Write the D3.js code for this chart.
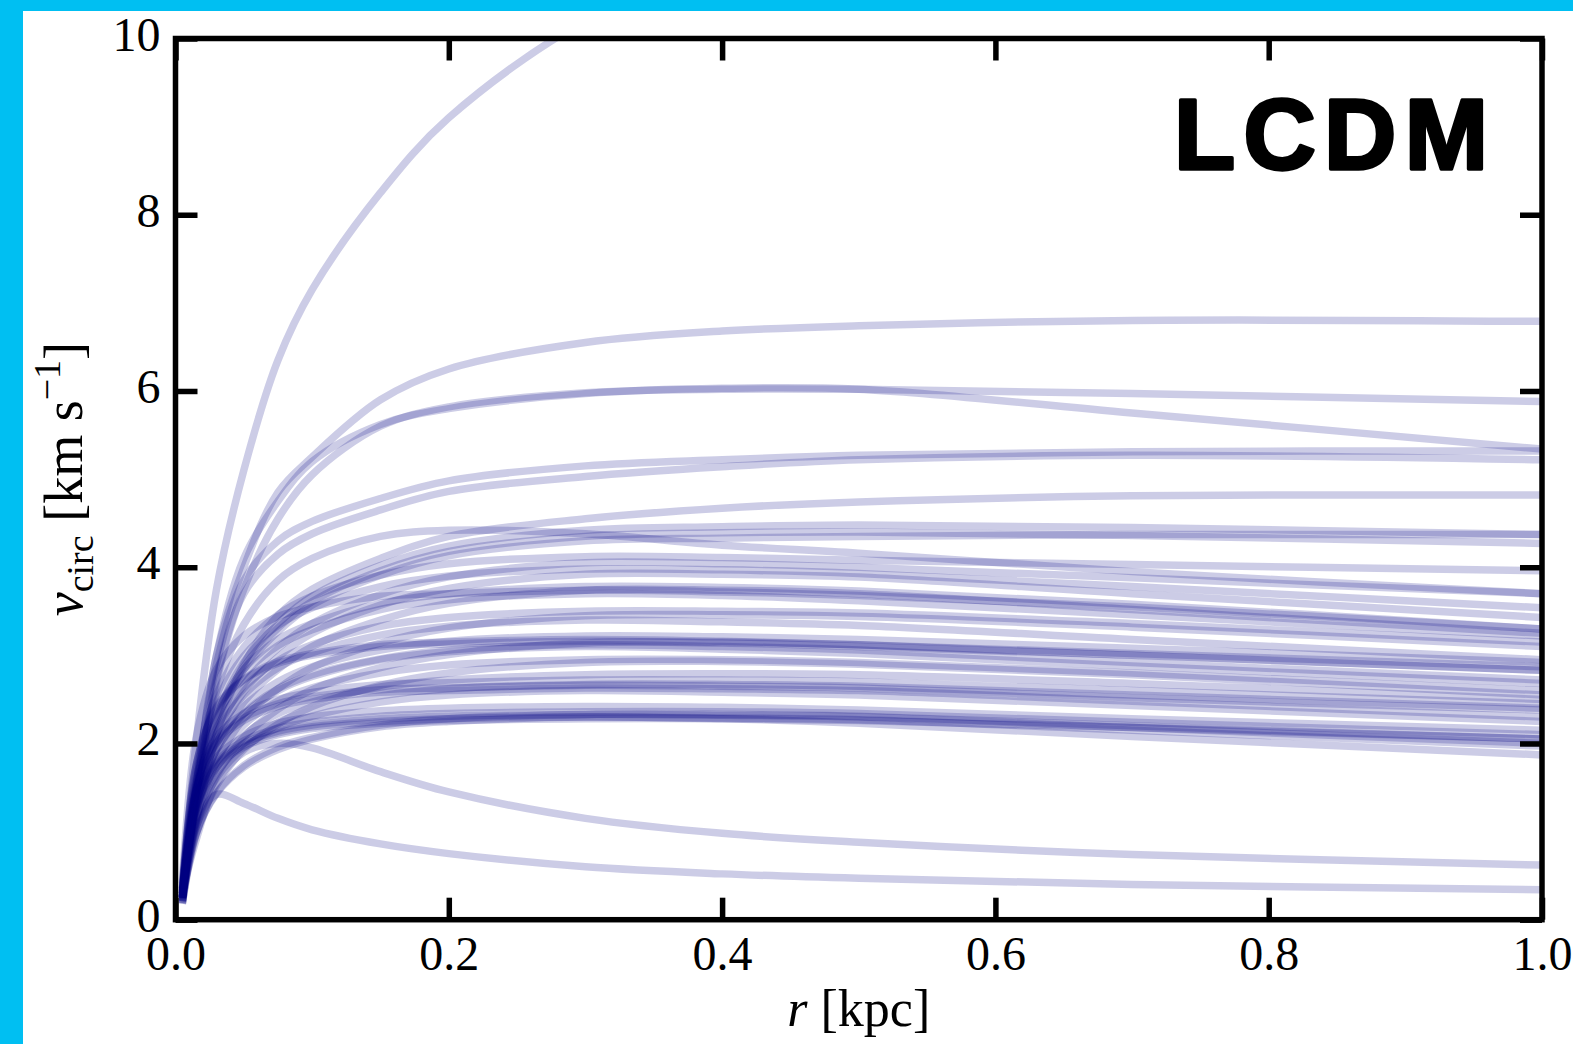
<!DOCTYPE html>
<html>
<head>
<meta charset="utf-8">
<script src="https://cdn.jsdelivr.net/npm/d3@7"></script>
<style>
  body { margin: 0; background: #00BFF2; }
  #root { width: 1573px; height: 1044px; }
</style>
</head>
<body>
<div id="root"></div>
<script>
var rGrid = [0.005, 0.015, 0.03, 0.05, 0.075, 0.1, 0.15, 0.2, 0.3, 0.4, 0.5, 0.7, 1.0];

// the few curves that stand apart
var vSteep = [0.3, 2.0, 3.75, 5.1, 6.35, 7.15, 8.25, 9.1, 10.2, 10.8, 11.2, 11.7, 12.0];
var vHigh  = [0.25, 1.4, 3.0, 4.0, 4.85, 5.25, 5.9, 6.25, 6.55, 6.68, 6.74, 6.8, 6.79];
var vSix1  = [0.25, 1.3, 2.7, 3.75, 4.55, 5.05, 5.6, 5.82, 5.98, 6.02, 6.02, 5.97, 5.88];
var vSix2  = [0.25, 1.5, 3.0, 4.1, 4.75, 5.2, 5.62, 5.8, 5.97, 6.03, 6.02, 5.75, 5.34];
var vFive1 = [0.25, 1.5, 2.9, 3.85, 4.3, 4.52, 4.78, 4.98, 5.15, 5.22, 5.27, 5.31, 5.32];
var vFive2 = [0.25, 1.4, 2.75, 3.7, 4.15, 4.38, 4.65, 4.86, 5.03, 5.14, 5.22, 5.27, 5.22];
var vFour8 = [0.25, 1.1, 2.1, 2.9, 3.45, 3.75, 4.1, 4.35, 4.55, 4.67, 4.74, 4.81, 4.82];
var vFall1 = [0.3, 0.9, 1.55, 1.9, 2.0, 1.95, 1.68, 1.45, 1.15, 0.98, 0.88, 0.74, 0.62];
var vFall2 = [0.25, 1.05, 1.42, 1.32, 1.15, 1.02, 0.86, 0.75, 0.6, 0.52, 0.47, 0.4, 0.34];

// the main bundle, top to bottom
var vU1 = [0.27, 1.46, 2.30, 2.92, 3.36, 3.67, 4.02, 4.24, 4.42, 4.46, 4.48, 4.45, 4.37];
var vU2 = [0.26, 1.42, 2.24, 2.84, 3.27, 3.57, 3.91, 4.13, 4.30, 4.33, 4.35, 4.37, 4.37];
var vU3 = [0.26, 1.44, 2.26, 2.87, 3.31, 3.61, 3.96, 4.18, 4.35, 4.39, 4.40, 4.36, 4.27];
var vH  = [0.25, 1.50, 2.60, 3.35, 3.85, 4.10, 4.35, 4.42, 4.38, 4.25, 4.16, 3.95, 3.70];
var vU4 = [0.33, 1.73, 2.55, 3.09, 3.46, 3.67, 3.91, 4.04, 4.12, 4.11, 4.08, 4.03, 3.96];
var vU5 = [0.24, 1.34, 2.11, 2.67, 3.08, 3.36, 3.69, 3.89, 4.05, 4.04, 4.00, 3.88, 3.70];
var vU6 = [0.32, 1.67, 2.47, 2.99, 3.34, 3.54, 3.78, 3.90, 3.98, 3.97, 3.93, 3.78, 3.54];
var vU7 = [0.24, 1.29, 2.04, 2.59, 2.98, 3.25, 3.57, 3.76, 3.92, 3.92, 3.89, 3.70, 3.43];
var vM1 = [0.30, 1.59, 2.34, 2.84, 3.18, 3.36, 3.59, 3.70, 3.78, 3.77, 3.73, 3.58, 3.30];
var vM2 = [0.22, 1.23, 1.94, 2.47, 2.84, 3.10, 3.40, 3.59, 3.74, 3.74, 3.70, 3.52, 3.25];
var vM3 = [0.30, 1.55, 2.29, 2.78, 3.11, 3.29, 3.52, 3.63, 3.70, 3.68, 3.62, 3.46, 3.22];
var vM14 = [0.41, 2.06, 2.84, 3.22, 3.44, 3.55, 3.67, 3.70, 3.74, 3.72, 3.68, 3.55, 3.30];
var vM4 = [0.28, 1.47, 2.17, 2.63, 2.94, 3.12, 3.33, 3.43, 3.50, 3.50, 3.48, 3.36, 3.15];
var vM5 = [0.21, 1.14, 1.79, 2.28, 2.62, 2.86, 3.14, 3.31, 3.45, 3.46, 3.44, 3.32, 3.10];
var vM6 = [0.27, 1.43, 2.11, 2.55, 2.86, 3.03, 3.23, 3.33, 3.40, 3.38, 3.34, 3.18, 2.95];
var vM7 = [0.26, 1.35, 2.00, 2.42, 2.70, 2.87, 3.06, 3.16, 3.22, 3.21, 3.18, 3.08, 2.92];
var vM8 = [0.35, 1.75, 2.42, 2.73, 2.93, 3.02, 3.12, 3.15, 3.18, 3.16, 3.12, 3.02, 2.87];
var vM13 = [0.35, 1.74, 2.40, 2.72, 2.91, 3.00, 3.10, 3.13, 3.16, 3.15, 3.12, 3.00, 2.83];
var vM9 = [0.19, 1.04, 1.63, 2.07, 2.39, 2.61, 2.86, 3.01, 3.14, 3.14, 3.10, 3.00, 2.83];
var vM10 = [0.25, 1.31, 1.93, 2.34, 2.62, 2.78, 2.96, 3.06, 3.12, 3.10, 3.06, 2.92, 2.72];
var vM11 = [0.25, 1.30, 1.92, 2.33, 2.60, 2.76, 2.95, 3.04, 3.10, 3.07, 3.02, 2.88, 2.68];
var vM12 = [0.24, 1.24, 1.83, 2.21, 2.48, 2.63, 2.80, 2.89, 2.95, 2.95, 2.92, 2.80, 2.60];
var vL1 = [0.18, 0.96, 1.52, 1.93, 2.22, 2.42, 2.66, 2.80, 2.92, 2.93, 2.90, 2.78, 2.55];
var vL2 = [0.22, 1.17, 1.72, 2.09, 2.34, 2.47, 2.64, 2.72, 2.78, 2.79, 2.78, 2.68, 2.50];
var vL3 = [0.30, 1.50, 2.07, 2.34, 2.50, 2.58, 2.67, 2.69, 2.72, 2.72, 2.70, 2.60, 2.45];
var vL4 = [0.21, 1.12, 1.66, 2.00, 2.24, 2.38, 2.54, 2.62, 2.67, 2.67, 2.65, 2.55, 2.40];
var vL14 = [0.29, 1.46, 2.02, 2.29, 2.45, 2.53, 2.61, 2.63, 2.66, 2.65, 2.63, 2.52, 2.38];
var vL5 = [0.29, 1.45, 2.00, 2.26, 2.42, 2.50, 2.58, 2.60, 2.63, 2.62, 2.60, 2.48, 2.30];
var vL6 = [0.21, 1.09, 1.61, 1.95, 2.18, 2.31, 2.47, 2.55, 2.60, 2.58, 2.55, 2.43, 2.25];
var vL7 = [0.27, 1.33, 1.84, 2.08, 2.23, 2.30, 2.37, 2.40, 2.42, 2.41, 2.38, 2.28, 2.15];
var vL8 = [0.26, 1.30, 1.79, 2.03, 2.17, 2.24, 2.31, 2.34, 2.36, 2.36, 2.34, 2.24, 2.10];
var vL9 = [0.26, 1.28, 1.77, 2.00, 2.14, 2.21, 2.28, 2.31, 2.33, 2.32, 2.30, 2.18, 2.00];
var vL13 = [0.19, 0.98, 1.44, 1.75, 1.96, 2.07, 2.21, 2.28, 2.33, 2.33, 2.31, 2.20, 2.05];
var vL10 = [0.25, 1.27, 1.75, 1.98, 2.12, 2.19, 2.25, 2.28, 2.30, 2.29, 2.27, 2.15, 1.97];
var vL11 = [0.18, 0.97, 1.43, 1.73, 1.93, 2.05, 2.19, 2.25, 2.30, 2.28, 2.23, 2.08, 1.87];
var vL12 = [0.25, 1.25, 1.73, 1.96, 2.10, 2.17, 2.23, 2.26, 2.28, 2.28, 2.26, 2.18, 2.05];

var curves = [vSteep, vHigh, vSix1, vSix2, vFive1, vFive2, vFour8, vFall1, vFall2,
  vU1, vU2, vU3, vH, vU4, vU5, vU6, vU7, vM1, vM2, vM3, vM14, vM4, vM5, vM6,
  vM7, vM8, vM13, vM9, vM10, vM11, vM12, vL1, vL2, vL3, vL4, vL14, vL5, vL6,
  vL7, vL8, vL9, vL13, vL10, vL11, vL12];

var xTicks = [0, 0.2, 0.4, 0.6, 0.8, 1.0];
var yTicks = [0, 2, 4, 6, 8, 10];

// style of the graph
var margin = {top: 38.5, right: 31, bottom: 124.3, left: 175.5},
    width = 1573 - margin.left - margin.right,
    height = 1044 - margin.top - margin.bottom;

var root = d3.select("#root")
  .append("svg")
  .attr("width", 1573)
  .attr("height", 1044);

// white page inside the cyan border
root.append("rect")
  .attr("x", 23).attr("y", 11)
  .attr("width", 1573 - 23).attr("height", 1044 - 11)
  .attr("fill", "#ffffff");

var svg = root.append("g")
  .attr("transform", "translate(" + margin.left + "," + margin.top + ")");

var x = d3.scaleLinear().domain([0, 1]).range([0, width]);
var y = d3.scaleLinear().domain([0, 10]).range([height, 0]);

svg.append("clipPath").attr("id", "clip")
  .append("rect").attr("width", width).attr("height", height);

var line = d3.line()
  .x(function (d, i) { return x(rGrid[i]); })
  .y(function (d) { return y(d); })
  .curve(d3.curveCatmullRom.alpha(0.5));

svg.append("g")
  .attr("clip-path", "url(#clip)")
  .selectAll("path")
  .data(curves)
  .enter()
  .append("path")
    .attr("d", line)
    .attr("fill", "none")
    .attr("stroke", "#000080")
    .attr("stroke-opacity", 0.2)
    .attr("stroke-width", 7.5);

// axes, ticks pointing inward
var tickLen = 22;
var serif = "'Liberation Serif', 'DejaVu Serif', serif";
function styleAxis(g) {
  g.select(".domain").remove();
  g.selectAll(".tick line").attr("stroke", "#000").attr("stroke-width", 5.5);
  g.selectAll(".tick text")
    .attr("fill", "#000")
    .style("font-family", serif)
    .style("font-size", "48px");
}

svg.append("g")
  .attr("transform", "translate(0," + height + ")")
  .call(d3.axisBottom(x).tickValues(xTicks).tickSize(-tickLen).tickPadding(16)
        .tickFormat(d3.format(".1f")))
  .call(styleAxis);

svg.append("g")
  .call(d3.axisLeft(y).tickValues(yTicks).tickSize(-tickLen).tickPadding(15)
        .tickFormat(d3.format("d")))
  .call(styleAxis)
  .selectAll(".tick text").attr("dy", "0.24em");

svg.append("g")
  .call(d3.axisTop(x).tickValues(xTicks).tickSize(-tickLen).tickFormat(""))
  .call(styleAxis);

svg.append("g")
  .attr("transform", "translate(" + width + ",0)")
  .call(d3.axisRight(y).tickValues(yTicks).tickSize(-tickLen).tickFormat(""))
  .call(styleAxis);

// frame
svg.append("rect")
  .attr("width", width).attr("height", height)
  .attr("fill", "none")
  .attr("stroke", "#000")
  .attr("stroke-width", 5.5);

// axis labels
var xl = svg.append("text")
  .attr("x", width / 2).attr("y", height + 106)
  .attr("text-anchor", "middle")
  .style("font-family", serif).style("font-size", "52px");
xl.append("tspan").style("font-style", "italic").text("r");
xl.append("tspan").text(" [kpc]");

var yl = svg.append("text")
  .attr("transform", "translate(" + (-94) + "," + (height / 2) + ") rotate(-90)")
  .attr("text-anchor", "middle")
  .style("font-family", serif).style("font-size", "54px");
yl.append("tspan").style("font-style", "italic").text("v");
yl.append("tspan").attr("dy", 11).style("font-size", "38px").text("circ");
yl.append("tspan").attr("dy", -11).text(" [km s");
yl.append("tspan").attr("dy", -22).style("font-size", "38px").text("\u22121");
yl.append("tspan").attr("dy", 22).text("]");

// model tag
svg.append("text")
  .attr("x", 1174 - margin.left).attr("y", 169 - margin.top)
  .attr("textLength", 314).attr("lengthAdjust", "spacing")
  .style("font-family", "'Liberation Sans', Arial, sans-serif")
  .style("font-weight", "bold")
  .style("font-size", "100px")
  .attr("stroke", "#000").attr("stroke-width", 3.5)
  .attr("stroke-linejoin", "round")
  .text("LCDM");
</script>
</body>
</html>
